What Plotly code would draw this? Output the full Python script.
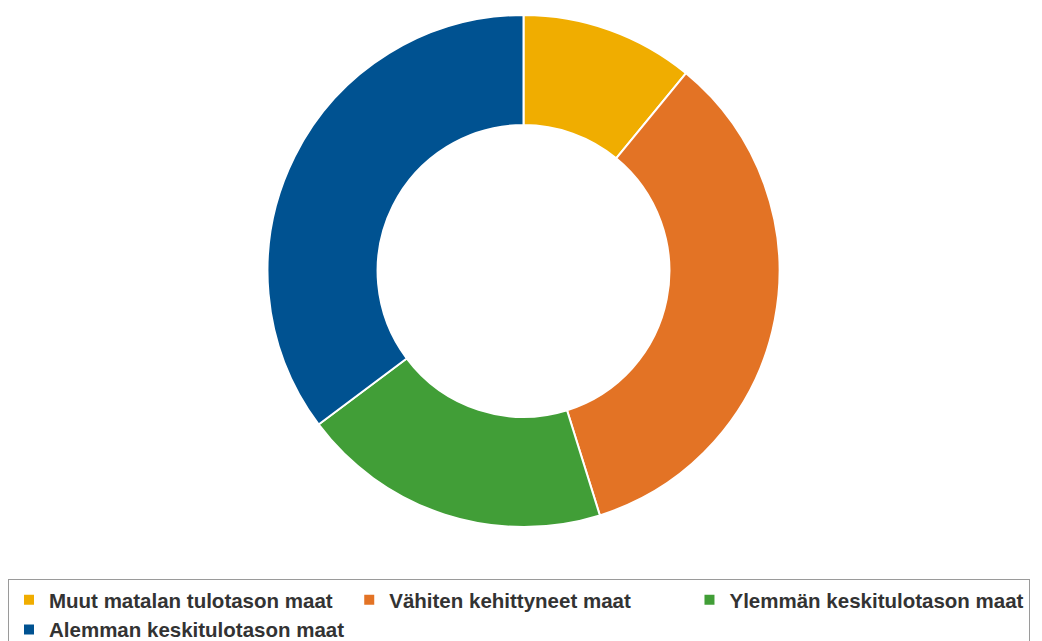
import plotly.graph_objects as go

categories = ["Muut matalan tulotason maat", "Vähiten kehittyneet maat",
              "Ylemmän keskitulotason maat", "Alemman keskitulotason maat"]
values = [10.95, 34.23, 19.59, 35.23]
colors = ["#f0ad00", "#e37325", "#419e37", "#005291"]

# page offset of the plot div (default body margin)
OFF = 8
W, H = 1042 - OFF, 641 - OFF
cx, cy, R = 523.5 - OFF, 271 - OFF, 256

fig = go.Figure(go.Pie(
    labels=categories, values=values, sort=False, direction="clockwise", rotation=0,
    hole=0.57, textinfo="none", hoverinfo="label+percent",
    marker=dict(colors=colors, line=dict(color="white", width=2)),
    domain=dict(x=[(cx - R) / W, (cx + R) / W], y=[(H - cy - R) / H, (H - cy + R) / H]),
))

fig.update_layout(
    width=W, height=H, paper_bgcolor="white", plot_bgcolor="white",
    margin=dict(l=0, r=0, t=0, b=0, autoexpand=False),
    showlegend=True,
    legend=dict(orientation="h", x=0, xanchor="left", y=(H - (579 - OFF)) / H,
                yanchor="top",
                bordercolor="#9a9a9a", borderwidth=1, bgcolor="white",
                font=dict(family="Liberation Sans, Arial, sans-serif", size=20.5,
                          color="#333333", weight="bold"),
                traceorder="normal", itemclick=False),
)
fig.write_html("out.html")
